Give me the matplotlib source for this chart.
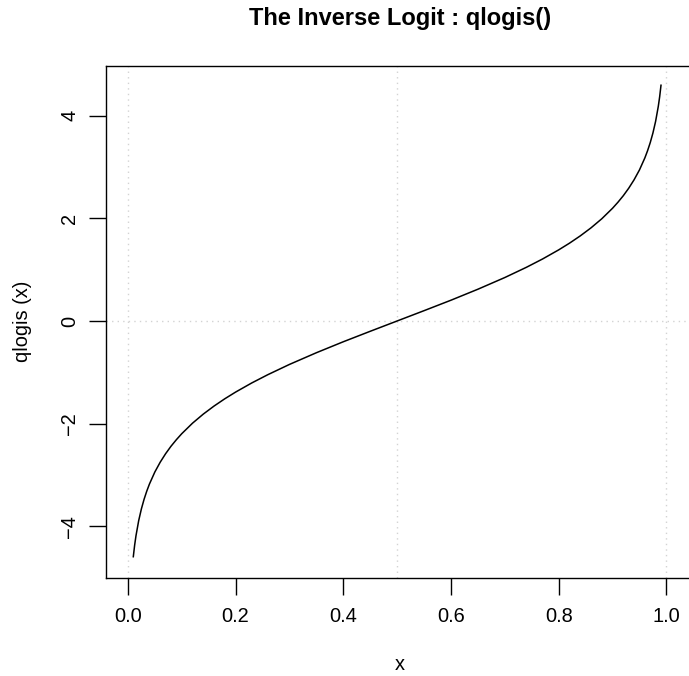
import matplotlib
matplotlib.use("Agg")
import matplotlib.pyplot as plt

# Curve samples of qlogis(x)
x_vals = [0.01, 0.0125, 0.015, 0.02, 0.025, 0.03, 0.035, 0.04, 0.05, 0.06,
          0.07, 0.08, 0.09, 0.10, 0.12, 0.14, 0.16, 0.18, 0.20, 0.23,
          0.26, 0.30, 0.35, 0.40, 0.45, 0.50, 0.55, 0.60, 0.65, 0.70,
          0.74, 0.77, 0.80, 0.82, 0.84, 0.86, 0.88, 0.90, 0.91, 0.92,
          0.93, 0.94, 0.95, 0.96, 0.965, 0.97, 0.975, 0.98, 0.985, 0.9875,
          0.99]
y_vals = [-4.595, -4.369, -4.185, -3.892, -3.664, -3.476, -3.317, -3.178, -2.944, -2.752,
          -2.587, -2.442, -2.314, -2.197, -1.992, -1.815, -1.658, -1.516, -1.386, -1.208,
          -1.046, -0.847, -0.619, -0.405, -0.201, 0.000, 0.201, 0.405, 0.619, 0.847,
          1.046, 1.208, 1.386, 1.516, 1.658, 1.815, 1.992, 2.197, 2.314, 2.442,
          2.587, 2.752, 2.944, 3.178, 3.317, 3.476, 3.664, 3.892, 4.185, 4.369,
          4.595]

x_ticks = [0.0, 0.2, 0.4, 0.6, 0.8, 1.0]
x_tick_labels = ["0.0", "0.2", "0.4", "0.6", "0.8", "1.0"]
y_ticks = [-4, -2, 0, 2, 4]
y_tick_labels = ["\u22124", "\u22122", "0", "2", "4"]
v_refs = [0.0, 0.5, 1.0]
h_refs = [0.0]

plt.rcParams["font.family"] = ["Liberation Sans", "DejaVu Sans"]

W, H = 689, 676
fig = plt.figure(figsize=(W / 100, H / 100), dpi=100)
ax = fig.add_axes([106 / W, 1 - 578 / H, 1 - 106 / W, (578 - 66) / H])

for v in v_refs:
    ax.axvline(v, color="#d3d3d3", linestyle=(0, (1, 3)), linewidth=1.0, zorder=1)
for h in h_refs:
    ax.axhline(h, color="#d3d3d3", linestyle=(0, (1, 3)), linewidth=1.0, zorder=1)

ax.plot(x_vals, y_vals, color="black", linewidth=1.1, zorder=3)

ax.set_xlim(-0.0407, 1.042)
ax.set_ylim(-5.01, 4.97)

ax.spines["right"].set_visible(False)
for s in ["left", "top", "bottom"]:
    ax.spines[s].set_linewidth(1.0)

ax.set_xticks(x_ticks)
ax.set_xticklabels(x_tick_labels)
ax.set_yticks(y_ticks)
ax.set_yticklabels(y_tick_labels, rotation=90, va="center")
ax.tick_params(axis="both", length=12, width=1.0, labelsize=14.4)
ax.tick_params(axis="x", pad=9.2)
ax.tick_params(axis="y", pad=7.1)

fig.text(400 / W, 1 - 664 / H, "x", ha="center", va="center", fontsize=14.4)
fig.text(23 / W, 1 - 321 / H, "qlogis (x)", ha="center", va="center",
         rotation=90, fontsize=14.4)
fig.text(400 / W, 1 - 18 / H, "The Inverse Logit : qlogis()",
         ha="center", va="center", fontsize=17, fontweight="bold")

fig.savefig("out.png", dpi=100)
